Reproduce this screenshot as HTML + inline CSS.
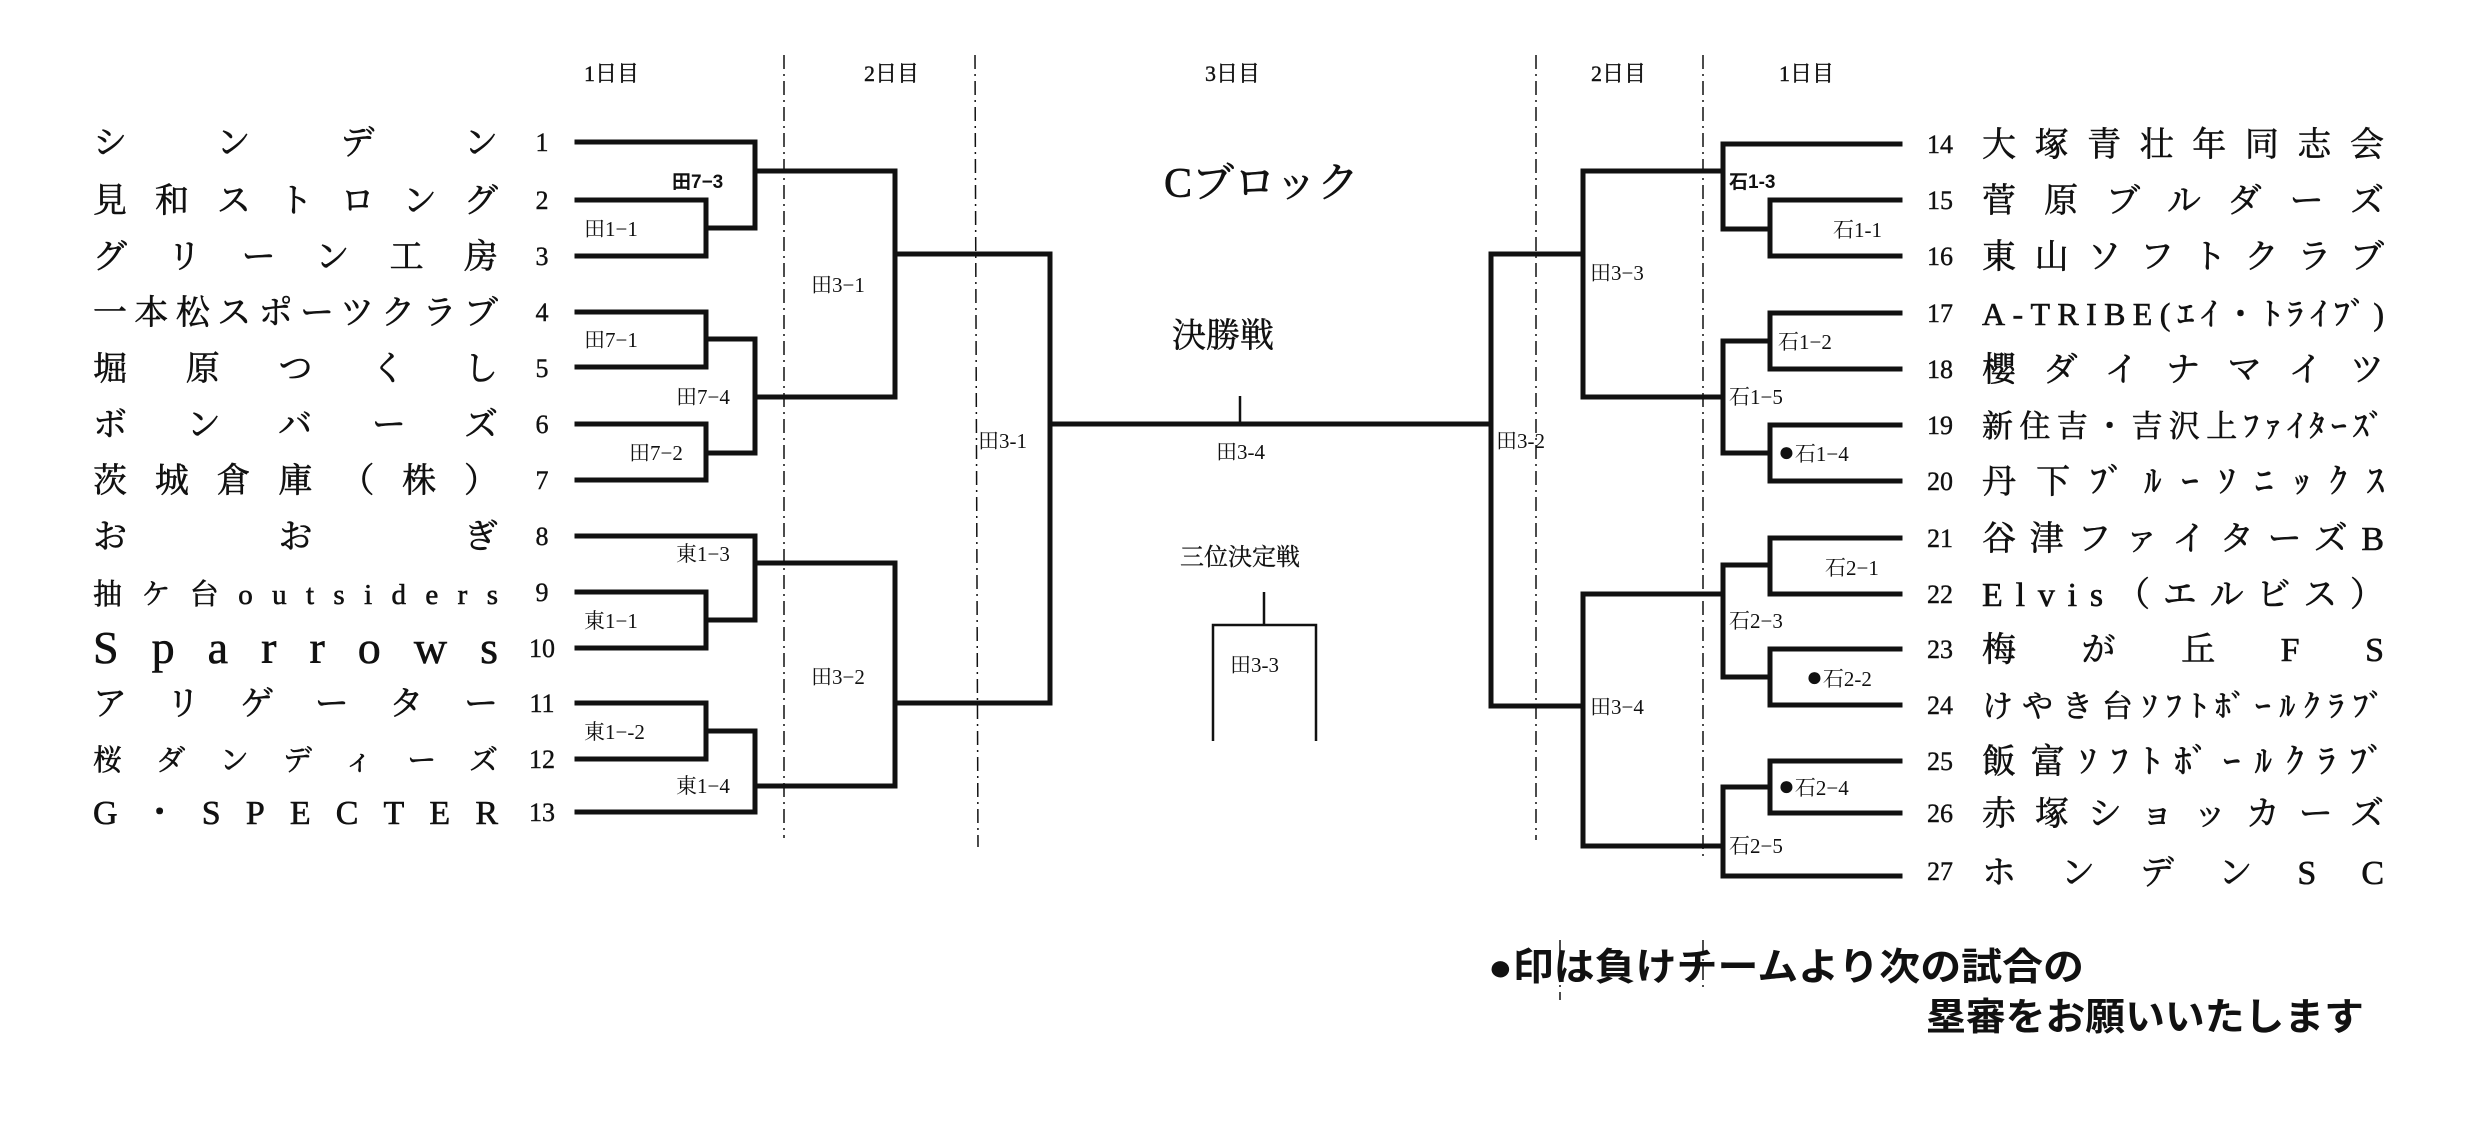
<!DOCTYPE html>
<html><head><meta charset="utf-8"><style>
html,body{margin:0;padding:0;background:#fff;}
svg{display:block;}
text{font-family:"Liberation Serif","Noto Serif CJK SC",serif;fill:#111;}
.nm{font-size:34px;stroke:#111;stroke-width:0.6;}
.no{font-size:26px;stroke:#111;stroke-width:0.4;}
.lb{font-size:21px;}
.hd{font-size:22px;stroke:#111;stroke-width:0.4;}
.b{font-family:"Liberation Sans","Noto Sans CJK JP",sans-serif;font-weight:bold;}
</style></head><body>
<svg width="2477" height="1132" viewBox="0 0 2477 1132" xmlns="http://www.w3.org/2000/svg">
<g stroke="#111" fill="none" stroke-width="1.5" stroke-dasharray="14,5,2,5">
<line x1="784" y1="55" x2="784" y2="838"/>
<line x1="975" y1="55" x2="978" y2="847"/>
<line x1="1536" y1="55" x2="1536" y2="840"/>
<line x1="1703" y1="55" x2="1703" y2="860"/>
<line x1="1703" y1="940" x2="1703" y2="992"/>
<line x1="1560" y1="940" x2="1560" y2="1000"/>
</g>
<g stroke="#111" fill="none" stroke-width="5" stroke-linecap="square">
<polyline points="577,142 755,142 755,228 706,228"/>
<polyline points="577,200 706,200 706,256 577,256"/>
<polyline points="577,312 706,312 706,367 577,367"/>
<polyline points="577,424 706,424 706,480 577,480"/>
<polyline points="706,339 755,339 755,453 706,453"/>
<polyline points="755,171 895,171 895,397 755,397"/>
<polyline points="895,254 1050,254 1050,703 895,703"/>
<polyline points="577,536 755,536 755,620 706,620"/>
<polyline points="577,592 706,592 706,648 577,648"/>
<polyline points="577,703 706,703 706,759 577,759"/>
<polyline points="706,731 755,731 755,812 577,812"/>
<polyline points="755,563 895,563 895,786 755,786"/>
<line x1="1050" y1="424" x2="1491" y2="424"/>
<polyline points="1900,144 1723,144 1723,229 1770,229"/>
<polyline points="1900,200 1770,200 1770,256 1900,256"/>
<polyline points="1723,171 1583,171 1583,397 1723,397"/>
<polyline points="1900,313 1770,313 1770,369 1900,369"/>
<polyline points="1900,425 1770,425 1770,481 1900,481"/>
<polyline points="1770,341 1723,341 1723,453 1770,453"/>
<polyline points="1583,254 1491,254 1491,706 1583,706"/>
<polyline points="1900,538 1770,538 1770,594 1900,594"/>
<polyline points="1900,649 1770,649 1770,705 1900,705"/>
<polyline points="1770,565 1723,565 1723,677 1770,677"/>
<polyline points="1723,594 1583,594 1583,846 1723,846"/>
<polyline points="1900,761 1770,761 1770,813 1900,813"/>
<polyline points="1770,787 1723,787 1723,876 1900,876"/>
</g>
<g stroke="#111" fill="none" stroke-width="2.5">
<line x1="1240" y1="396" x2="1240" y2="424"/>
<line x1="1264" y1="592" x2="1264" y2="625"/>
<polyline points="1213,741 1213,625 1316,625 1316,741"/>
</g>
<g class="hd">
<text x="584" y="81">1日目</text>
<text x="864" y="81">2日目</text>
<text x="1205" y="81">3日目</text>
<text x="1591" y="81">2日目</text>
<text x="1779" y="81">1日目</text>
</g>
<text x="1164" y="197" style="font-size:42px;stroke:#111;stroke-width:0.6">Cブロック</text>
<text x="1172" y="347" style="font-size:34px;stroke:#111;stroke-width:0.5">決勝戦</text>
<text x="1216" y="459" class="lb">田3-4</text>
<text x="1180" y="565" style="font-size:24px;stroke:#111;stroke-width:0.3">三位決定戦</text>
<text x="1230" y="672" class="lb">田3-3</text>
<g class="lb">
<text x="672" y="188" class="b" style="font-size:19px">田7−3</text>
<text x="584" y="236">田1−1</text>
<text x="811" y="292">田3−1</text>
<text x="584" y="347">田7−1</text>
<text x="676" y="404">田7−4</text>
<text x="629" y="460">田7−2</text>
<text x="978" y="448">田3-1</text>
<text x="676" y="561">東1−3</text>
<text x="584" y="628">東1−1</text>
<text x="811" y="684">田3−2</text>
<text x="584" y="739">東1−-2</text>
<text x="676" y="793">東1−4</text>
<text x="1729" y="188" class="b" style="font-size:19px">石1-3</text>
<text x="1833" y="237">石1-1</text>
<text x="1590" y="280">田3−3</text>
<text x="1778" y="349">石1−2</text>
<text x="1729" y="404">石1−5</text>
<text x="1778" y="461"><tspan style="font-size:28px">●</tspan>石1−4</text>
<text x="1496" y="448">田3-2</text>
<text x="1825" y="575">石2−1</text>
<text x="1729" y="628">石2−3</text>
<text x="1806" y="686"><tspan style="font-size:28px">●</tspan>石2-2</text>
<text x="1590" y="714">田3−4</text>
<text x="1778" y="795"><tspan style="font-size:28px">●</tspan>石2−4</text>
<text x="1729" y="853">石2−5</text>
</g>
<g class="nm">
<text x="93" y="154" textLength="405" lengthAdjust="spacing">シンデン</text>
<text x="93" y="212" textLength="405" lengthAdjust="spacing">見和ストロング</text>
<text x="93" y="268" textLength="405" lengthAdjust="spacing">グリーン工房</text>
<text x="93" y="324" textLength="405" lengthAdjust="spacing">一本松スポーツクラブ</text>
<text x="93" y="380" textLength="405" lengthAdjust="spacing">堀原つくし</text>
<text x="93" y="436" textLength="405" lengthAdjust="spacing">ボンバーズ</text>
<text x="93" y="492" textLength="405" lengthAdjust="spacing">茨城倉庫（株）</text>
<text x="93" y="548" textLength="405" lengthAdjust="spacing">おおぎ</text>
<text x="93" y="604" textLength="405" lengthAdjust="spacing" style="font-size:29px">抽ケ台outsiders</text>
<text x="93" y="663" textLength="405" lengthAdjust="spacing" style="font-size:46px">Sparrows</text>
<text x="93" y="715" textLength="405" lengthAdjust="spacing">アリゲーター</text>
<text x="93" y="770" textLength="405" lengthAdjust="spacing" style="font-size:29px">桜ダンディーズ</text>
<text x="93" y="824" textLength="405" lengthAdjust="spacing">G・SPECTER</text>
</g>
<g class="no" text-anchor="middle">
<text x="542" y="151">1</text><text x="542" y="209">2</text><text x="542" y="265">3</text>
<text x="542" y="321">4</text><text x="542" y="377">5</text><text x="542" y="433">6</text>
<text x="542" y="489">7</text><text x="542" y="545">8</text><text x="542" y="601">9</text>
<text x="542" y="657">10</text><text x="542" y="712">11</text><text x="542" y="768">12</text>
<text x="542" y="821">13</text>
<text x="1940" y="153">14</text><text x="1940" y="209">15</text><text x="1940" y="265">16</text>
<text x="1940" y="322">17</text><text x="1940" y="378">18</text><text x="1940" y="434">19</text>
<text x="1940" y="490">20</text><text x="1940" y="547">21</text><text x="1940" y="603">22</text>
<text x="1940" y="658">23</text><text x="1940" y="714">24</text><text x="1940" y="770">25</text>
<text x="1940" y="822">26</text><text x="1940" y="880">27</text>
</g>
<g class="nm">
<text x="1982" y="156" textLength="402" lengthAdjust="spacing">大塚青壮年同志会</text>
<text x="1982" y="212" textLength="402" lengthAdjust="spacing">菅原ブルダーズ</text>
<text x="1982" y="268" textLength="402" lengthAdjust="spacing">東山ソフトクラブ</text>
<text x="1982" y="325" textLength="402" lengthAdjust="spacing" style="font-size:32px">A-TRIBE(ｴｲ・ﾄﾗｲﾌﾞ)</text>
<text x="1982" y="381" textLength="402" lengthAdjust="spacing">櫻ダイナマイツ</text>
<text x="1982" y="437" textLength="402" lengthAdjust="spacing" style="font-size:31px">新住吉・吉沢上ﾌｧｲﾀｰｽﾞ</text>
<text x="1982" y="493" textLength="402" lengthAdjust="spacing">丹下ﾌﾞﾙｰｿﾆｯｸｽ</text>
<text x="1982" y="550" textLength="402" lengthAdjust="spacing">谷津ファイターズB</text>
<text x="1982" y="606" textLength="402" lengthAdjust="spacing">Elvis（エルビス）</text>
<text x="1982" y="661" textLength="402" lengthAdjust="spacing">梅が丘FS</text>
<text x="1982" y="717" textLength="402" lengthAdjust="spacing" style="font-size:31px">けやき台ｿﾌﾄﾎﾞｰﾙｸﾗﾌﾞ</text>
<text x="1982" y="773" textLength="402" lengthAdjust="spacing">飯富ｿﾌﾄﾎﾞｰﾙｸﾗﾌﾞ</text>
<text x="1982" y="825" textLength="402" lengthAdjust="spacing">赤塚ショッカーズ</text>
<text x="1982" y="884" textLength="402" lengthAdjust="spacing">ホンデンSC</text>
</g>
<text x="1488" y="980" class="b" style="font-size:38px" textLength="596" lengthAdjust="spacingAndGlyphs">●印は負けチームより次の試合の</text>
<text x="1926" y="1030" class="b" style="font-size:38px" textLength="438" lengthAdjust="spacingAndGlyphs">塁審をお願いいたします</text>
</svg>
</body></html>
